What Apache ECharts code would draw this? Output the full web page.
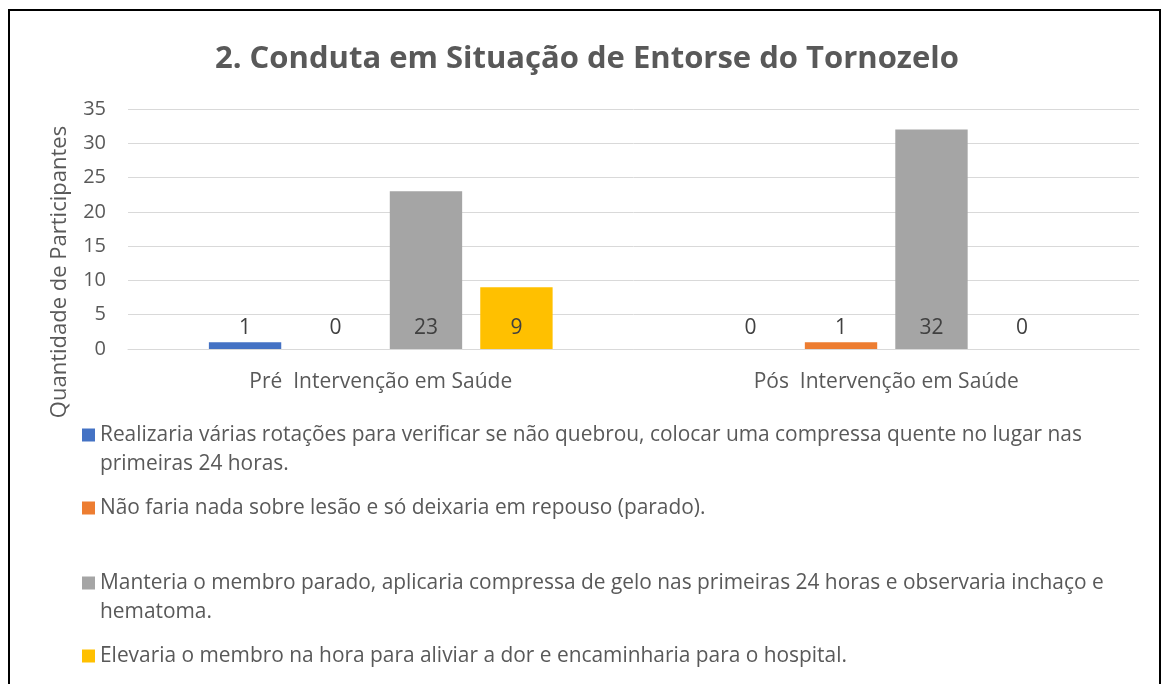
<!DOCTYPE html>
<html>
<head>
<meta charset="utf-8">
<script src="https://cdn.jsdelivr.net/npm/echarts@6/dist/echarts.min.js"></script>
<style>
  html, body { margin: 0; padding: 0; background: #fff; }
  #chart { width: 1165px; height: 684px; }
</style>
</head>
<body>
<div id="chart"></div>
<script>
const categories = ['Pré  Intervenção em Saúde', 'Pós  Intervenção em Saúde']
const seriesNames = [
  'Realizaria várias rotações para verificar se não quebrou, colocar uma compressa quente no lugar nas primeiras 24 horas.',
  'Não faria nada sobre lesão e só deixaria em repouso (parado).',
  'Manteria o membro parado, aplicaria compressa de gelo nas primeiras 24 horas e observaria inchaço e hematoma.',
  'Elevaria o membro na hora para aliviar a dor e encaminharia para o hospital.'
]
const rotacoes = [1, 0]
const repouso = [0, 1]
const gelo = [23, 32]
const elevar = [9, 0]
const yTicks = [0, 5, 10, 15, 20, 25, 30, 35]

const colors = ['#4472C4', '#ED7D31', '#A5A5A5', '#FFC000']
const textColor = '#595959'
const fontFamily = '"Open Sans", Lato, sans-serif'

const chart = echarts.init(document.getElementById('chart'))

const values = [rotacoes, repouso, gelo, elevar]
const lineH = 29.5
const legendFont = 20.9
const legendWidth = 1040
// icon centre of each legend entry
const legendCenters = [435, 508, 583, 656]

// word wrap by measured width, so the legend icon can be kept on the first line
const ctx = document.createElement('canvas').getContext('2d')
ctx.font = legendFont + 'px ' + fontFamily
function wrapText(text) {
  const words = text.split(' ')
  const lines = []
  let cur = ''
  words.forEach(w => {
    const test = cur ? cur + ' ' + w : w
    if (cur && ctx.measureText(test).width > legendWidth) {
      lines.push(cur)
      cur = w
    } else {
      cur = test
    }
  })
  lines.push(cur)
  return lines
}
const legendLines = seriesNames.map(wrapText)

const option = {
  animation: false,
  textStyle: { fontFamily: fontFamily },
  title: {
    text: '2. Conduta em Situação de Entorse do Tornozelo',
    left: 210,
    top: 39,
    textStyle: { fontSize: 31, fontWeight: 'bold', color: textColor, fontFamily: fontFamily }
  },
  legend: seriesNames.map((name, i) => {
    const lines = legendLines[i]
    // with two lines, an empty line on top centres the icon on the first text line
    const wrapped = lines.length > 1
    return {
      data: [name],
      orient: 'vertical',
      left: 82,
      top: legendCenters[i] - (wrapped ? lineH * 1.5 : lineH / 2),
      padding: 0,
      itemWidth: 13,
      itemHeight: 13,
      itemGap: 0,
      icon: 'rect',
      selectedMode: false,
      formatter: () => (wrapped ? '\n' : '') + lines.join('\n'),
      textStyle: {
        fontSize: legendFont,
        color: textColor,
        lineHeight: lineH
      }
    }
  }),
  grid: { left: 128, right: 26, top: 109, bottom: 335 },
  xAxis: {
    type: 'category',
    data: categories,
    axisLine: { lineStyle: { color: '#D9D9D9', width: 1 } },
    axisTick: { show: false },
    axisLabel: { color: textColor, fontSize: 21, margin: 23 }
  },
  yAxis: {
    type: 'value',
    min: yTicks[0],
    max: yTicks[yTicks.length - 1],
    interval: 5,
    axisLine: { show: false },
    axisTick: { show: false },
    splitLine: { lineStyle: { color: '#D9D9D9', width: 1 } },
    axisLabel: { color: textColor, fontSize: 20, margin: 22 }
  },
  graphic: [
    {
      type: 'rect',
      shape: { x: 9, y: 10, width: 1151, height: 700 },
      style: { fill: 'none', stroke: '#000', lineWidth: 2 },
      silent: true
    },
    {
      type: 'text',
      x: 60,
      y: 272,
      rotation: Math.PI / 2,
      style: {
        text: 'Quantidade de Participantes',
        fill: textColor,
        font: '22px ' + fontFamily,
        align: 'center',
        verticalAlign: 'middle'
      }
    }
  ],
  series: seriesNames.map((name, i) => ({
    name: name,
    type: 'bar',
    data: values[i],
    barGap: '25%',
    barCategoryGap: '32%',
    itemStyle: { color: colors[i] },
    label: {
      show: true,
      position: 'insideBottom',
      distance: 10,
      color: '#404040',
      fontSize: 21
    }
  }))
}

document.fonts.ready.then(() => {
  chart.setOption(option)
})
</script>
</body>
</html>
